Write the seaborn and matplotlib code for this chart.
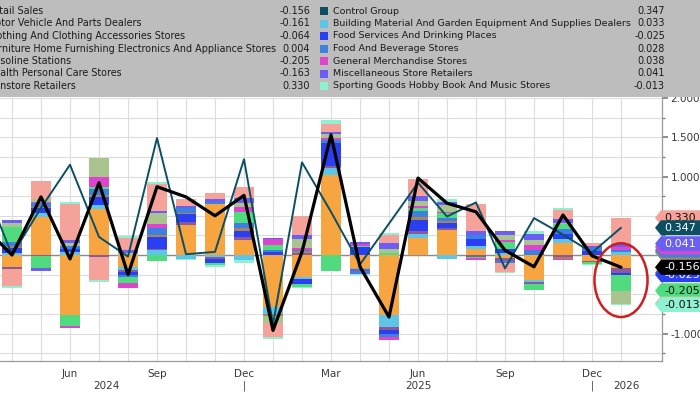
import matplotlib
matplotlib.use("Agg")
import matplotlib.pyplot as plt
from matplotlib.patches import Polygon, Ellipse, Rectangle
from matplotlib.transforms import IdentityTransform, blended_transform_factory
import seaborn as sns
import pandas as pd
import numpy as np

# months shown as bars (Apr 2024 - Jan 2026); lines start one month earlier
months = pd.period_range("2024-04", "2026-01", freq="M")
line_months = pd.period_range("2024-03", "2026-01", freq="M")

# headline lines (m/m %)
retail_sales = [0.37, 0.00, 0.74, -0.05, 0.92, -0.25, 0.87, 0.74, 0.50, 0.76, -0.96, 0.04,
                1.53, -0.15, -0.79, 0.98, 0.66, 0.55, 0.06, -0.15, 0.51, -0.01, -0.156]
control_group = [0.93, 0.00, 0.60, 1.15, 0.23, -0.02, 1.49, 0.01, 0.04, 1.22, -0.88, 1.18,
                 0.55, -0.12, 0.40, 0.92, 0.49, 0.67, -0.17, 0.47, 0.26, 0.03, 0.347]

# contributions by store type (Apr 2024 .. Jan 2026)
motor_vehicle = [-0.15, 0.49, -0.76, 0.59, -0.15, 0.00, 0.38, 0.65, 0.19, -0.66, -0.28, 1.02,
                 -0.16, -0.77, 0.22, 0.32, 0.08, -0.04, -0.32, 0.15, -0.07, -0.161]
building = [0.03, 0.04, 0.04, 0.05, -0.04, 0.06, -0.05, -0.03, -0.06, -0.09, -0.03, 0.09,
            -0.02, -0.15, 0.05, -0.05, 0.03, 0.03, -0.03, 0.05, 0.00, 0.033]
clothing = [-0.03, -0.01, 0.00, -0.02, -0.02, 0.02, 0.04, -0.02, 0.04, 0.00, 0.03, 0.02,
            -0.02, -0.03, 0.04, 0.03, -0.02, -0.03, -0.02, -0.03, -0.02, -0.064]
food_services = [0.06, 0.07, 0.04, 0.10, -0.04, 0.15, 0.10, -0.05, 0.08, 0.04, -0.06, 0.30,
                 0.10, -0.06, 0.14, 0.06, 0.10, 0.05, 0.00, 0.07, 0.05, -0.025]
furniture = [0.03, 0.01, 0.00, 0.02, 0.00, 0.02, 0.02, 0.00, 0.03, -0.03, 0.02, 0.00,
             0.00, 0.00, 0.03, 0.02, 0.00, 0.00, 0.00, -0.02, 0.00, 0.004]
food_beverage = [0.05, 0.05, 0.04, 0.08, -0.03, 0.10, 0.06, 0.03, 0.07, 0.03, 0.02, 0.03,
                 -0.04, -0.04, 0.08, 0.04, 0.04, -0.03, 0.06, 0.06, 0.04, 0.028]
gasoline = [0.19, -0.16, -0.15, 0.03, -0.08, -0.08, 0.00, -0.03, 0.14, 0.06, -0.04, -0.20,
            0.02, 0.03, 0.04, 0.06, -0.02, 0.08, -0.08, 0.06, -0.03, -0.205]
general_merch = [0.00, 0.02, -0.02, 0.12, -0.06, 0.05, 0.00, 0.00, 0.06, 0.07, 0.02, 0.03,
                 0.02, -0.03, 0.03, 0.02, -0.02, 0.03, 0.07, -0.01, 0.00, 0.038]
health = [0.05, 0.03, 0.03, 0.24, 0.03, 0.13, 0.00, 0.00, 0.05, -0.09, 0.12, 0.05,
          0.00, 0.05, 0.06, 0.09, 0.00, 0.07, 0.06, 0.02, 0.00, -0.163]
misc_store = [0.04, -0.03, 0.04, 0.00, 0.03, 0.03, 0.03, 0.03, 0.07, 0.02, 0.04, 0.03,
              0.03, 0.07, 0.06, 0.04, 0.05, 0.04, 0.08, 0.05, 0.02, 0.041]
nonstore = [-0.22, 0.23, 0.46, -0.30, 0.16, 0.35, 0.08, 0.08, 0.13, -0.17, 0.25, 0.10,
            0.00, 0.10, 0.22, 0.00, 0.35, -0.12, 0.00, 0.11, 0.04, 0.330]
sporting = [-0.02, 0.00, 0.03, -0.02, 0.02, 0.02, -0.01, -0.02, -0.04, -0.03, -0.01, 0.05,
            -0.02, 0.03, 0.00, 0.03, 0.00, -0.01, 0.03, 0.03, -0.01, -0.013]

# stacking order = legend read row by row
components = [
    ("Motor Vehicle And Parts Dealers", motor_vehicle, "#f7a540"),
    ("Building Material And Garden Equipment And Supplies Dealers", building, "#5cc5e8"),
    ("Clothing And Clothing Accessories Stores", clothing, "#8c5a9c"),
    ("Food Services And Drinking Places", food_services, "#2b3ff2"),
    ("Furniture Home Furnishing Electronics And Appliance Stores", furniture, "#a8845a"),
    ("Food And Beverage Stores", food_beverage, "#3c80e0"),
    ("Gasoline Stations", gasoline, "#50dc7e"),
    ("General Merchandise Stores", general_merch, "#df44cc"),
    ("Health Personal Care Stores", health, "#a9c48e"),
    ("Miscellaneous Store Retailers", misc_store, "#6b5ef2"),
    ("Nonstore Retailers", nonstore, "#f5a29a"),
    ("Sporting Goods Hobby Book And Music Stores", sporting, "#8ff0d2"),
]
lines = [
    ("Retail Sales", retail_sales, "#000000"),
    ("Control Group", control_group, "#0c4f63"),
]
left_col = ["Retail Sales", "Motor Vehicle And Parts Dealers",
            "Clothing And Clothing Accessories Stores",
            "Furniture Home Furnishing Electronics And Appliance Stores",
            "Gasoline Stations", "Health Personal Care Stores", "Nonstore Retailers"]
right_col = ["Control Group", "Building Material And Garden Equipment And Supplies Dealers",
             "Food Services And Drinking Places", "Food And Beverage Stores",
             "General Merchandise Stores", "Miscellaneous Store Retailers",
             "Sporting Goods Hobby Book And Music Stores"]

sns.set_theme(style="white")
plt.rcParams["font.family"] = ["DejaVu Sans"]

W, H = 700, 394
fig = plt.figure(figsize=(W / 100, H / 100), dpi=100)
ax = fig.add_axes([0, (H - 361) / H, 662 / W, (361 - 98) / H])

pos = np.arange(len(months))
line_pos = np.arange(len(line_months)) - 1

# stacked bars, positives up from zero, negatives down
pos_base = np.zeros(len(months))
neg_base = np.zeros(len(months))
tag_y = {}
for name, vals, col in components:
    v = np.array(vals)
    bottom = np.where(v >= 0, pos_base, neg_base)
    sns.barplot(x=pos, y=v, bottom=bottom, native_scale=True, width=0.7, color=col,
                saturation=1, errorbar=None, linewidth=0, ax=ax, zorder=2)
    pos_base = pos_base + np.clip(v, 0, None)
    neg_base = neg_base + np.clip(v, None, 0)
    tag_y[name] = (pos_base if v[-1] >= 0 else neg_base)[-1]

sns.lineplot(x=line_pos, y=control_group, color="#0c4f63", linewidth=1.4, ax=ax, zorder=3)
sns.lineplot(x=line_pos, y=retail_sales, color="black", linewidth=2.3, ax=ax, zorder=4)
tag_y["Control Group"] = control_group[-1]
tag_y["Retail Sales"] = retail_sales[-1]

ax.set_xlim(-12 / 29, 650 / 29)
ax.set_ylim(-1.35, 2.0)
ax.axhline(0, color="#8c8c8c", lw=1.0, zorder=1.5)

# axes styling
ax.yaxis.tick_right()
ax.set_yticks(np.arange(-1, 2.01, 0.5))
ax.set_yticklabels([f"{t:.3f}" for t in np.arange(-1, 2.01, 0.5)])
ax.set_yticks(np.arange(-1.25, 2.0, 0.25), minor=True)
q_idx = list(range(2, len(months), 3))
ax.set_xticks(q_idx)
ax.set_xticklabels([months[i].strftime("%b") for i in q_idx])
ax.set_xticks(pos, minor=True)
ax.set_xlabel("")
ax.set_ylabel("")
ax.grid(True, which="both", color="#dcdcdc", lw=0.8, zorder=0)
ax.set_axisbelow(True)
for s in ["left", "top"]:
    ax.spines[s].set_visible(False)
for s in ["right", "bottom"]:
    ax.spines[s].set_color("#9a9a9a")
    ax.spines[s].set_linewidth(0.9)
ax.tick_params(axis="both", which="both", direction="out", color="#808080",
               labelcolor="#3a3a3a", labelsize=7.5)
ax.tick_params(axis="x", which="major", length=4, pad=2)
ax.tick_params(axis="x", which="minor", length=4)
ax.tick_params(axis="y", which="major", length=4, pad=2, right=True, left=False)
ax.tick_params(axis="y", which="minor", length=2, right=True, left=False)

# year row under month labels
tr = blended_transform_factory(ax.transData, ax.transAxes)
year_row = -(386 - 361) / (361 - 98)
for yr, xi in [("2024", 3.25), ("2025", 14.0), ("2026", 21.2)]:
    ax.text(xi, year_row, yr, transform=tr, ha="center", va="center",
            fontsize=7.5, color="#3a3a3a")
for i, m in enumerate(months):
    if m.month == 12:
        ax.text(i, year_row, "|", transform=tr, ha="center", va="center",
                fontsize=7, color="#3a3a3a")

# red ellipse around the latest bar
ax.add_patch(Ellipse((len(months) - 1, -0.32), width=1.83, height=0.94, fill=False,
                     edgecolor="#cc2020", lw=1.8, zorder=6, clip_on=False))

# value tags on the right axis
colors = {n: c for n, _, c in components}
colors.update({n: c for n, _, c in lines})
dark = {"Retail Sales", "Control Group", "Food Services And Drinking Places",
        "Miscellaneous Store Retailers", "Food And Beverage Stores",
        "General Merchandise Stores"}
values_last = {n: v[-1] for n, v, _ in components}
values_last.update({n: v[-1] for n, v, _ in lines})
fig.canvas.draw()
order = [n for n, _, _ in components] + ["Control Group", "Retail Sales"]
for k, name in enumerate(order):
    yd = ax.transData.transform((0, tag_y[name]))[1]
    poly = Polygon([(655, yd), (661, yd + 7.5), (710, yd + 7.5), (710, yd - 7.5),
                    (661, yd - 7.5)], closed=True, facecolor=colors[name],
                   edgecolor="none", transform=IdentityTransform(), zorder=20 + k)
    fig.add_artist(poly)
    fig.text(664, yd, f"{values_last[name]:.3f}", transform=IdentityTransform(),
             ha="left", va="center", fontsize=8,
             color="white" if name in dark else "#111111", zorder=20 + k)

# legend header
fig.add_artist(Rectangle((0, 1 - 97 / H), 1, 97 / H, transform=fig.transFigure,
                         facecolor="#bdbdbd", edgecolor="none", zorder=30))
for r, (ln, rn) in enumerate(zip(left_col, right_col)):
    yy = 1 - (11 + 12.5 * r) / H
    fig.text(-13 / W, yy, ln, ha="left", va="center", fontsize=6.9, color="#1a1a1a", zorder=31)
    fig.text(310 / W, yy, f"{values_last[ln]:.3f}", ha="right", va="center",
             fontsize=6.9, color="#1a1a1a", zorder=31)
    fig.add_artist(Rectangle((320 / W, yy - 4 / H), 8 / W, 8 / H, transform=fig.transFigure,
                             facecolor=colors[rn], edgecolor="none", zorder=31))
    fig.text(333 / W, yy, rn, ha="left", va="center", fontsize=6.8, color="#1a1a1a", zorder=31)
    fig.text(665 / W, yy, f"{values_last[rn]:.3f}", ha="right", va="center",
             fontsize=6.9, color="#1a1a1a", zorder=31)

fig.savefig("out.png", dpi=100)
